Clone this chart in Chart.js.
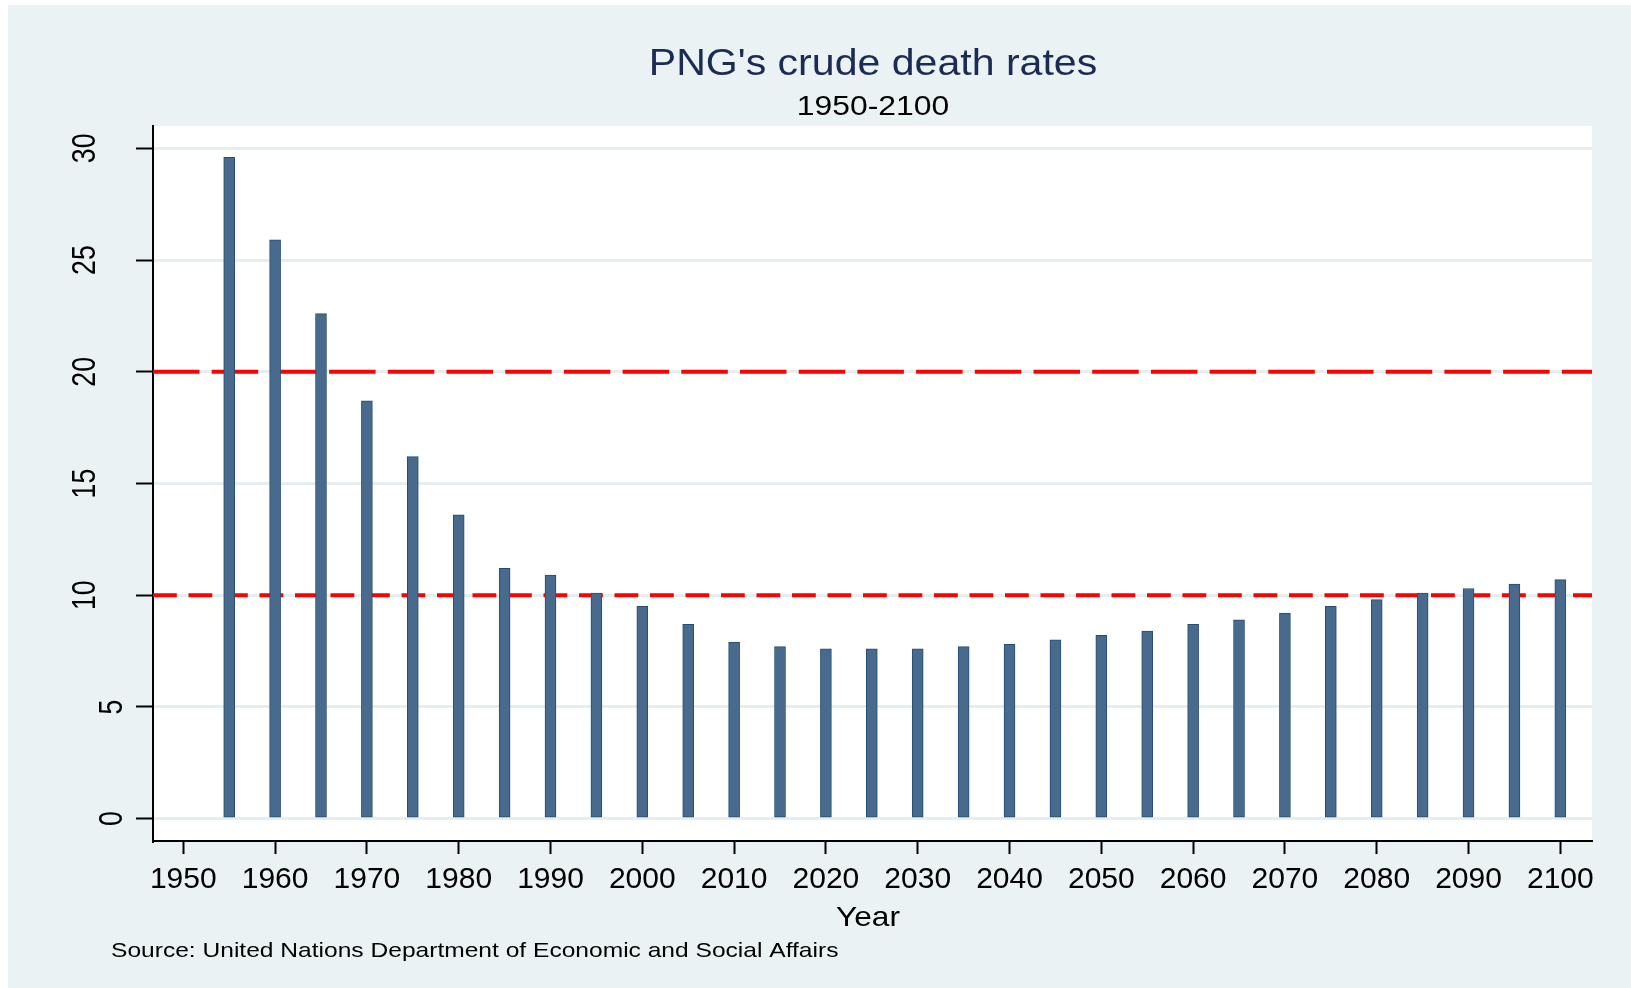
<!DOCTYPE html>
<html>
<head>
<meta charset="utf-8">
<script src="https://cdn.jsdelivr.net/npm/chart.js@4"></script>
<style>
  html, body { margin: 0; padding: 0; background: #ffffff; }
  #wrap { width: 1631px; height: 988px; position: relative; }
</style>
</head>
<body>
<div id="wrap"><canvas id="chart"></canvas></div>
<script>
// data
var years = [1955, 1960, 1965, 1970, 1975, 1980, 1985, 1990, 1995, 2000,
             2005, 2010, 2015, 2020, 2025, 2030, 2035, 2040, 2045, 2050,
             2055, 2060, 2065, 2070, 2075, 2080, 2085, 2090, 2095, 2100];
var deathRates = [29.6, 25.9, 22.6, 18.7, 16.2, 13.6, 11.2, 10.9, 10.1, 9.5,
                  8.7, 7.9, 7.7, 7.6, 7.6, 7.6, 7.7, 7.8, 8.0, 8.2,
                  8.4, 8.7, 8.9, 9.2, 9.5, 9.8, 10.1, 10.3, 10.5, 10.7];
var xTickValues = [1950, 1960, 1970, 1980, 1990, 2000, 2010, 2020, 2030, 2040,
                   2050, 2060, 2070, 2080, 2090, 2100];
var yTickValues = [0, 5, 10, 15, 20, 25, 30];
var refLines = [20, 10];

var titleText = "PNG's crude death rates";
var subtitleText = "1950-2100";
var xTitleText = "Year";
var noteText = "Source: United Nations Department of Economic and Social Affairs";

var FONT = '"Liberation Sans", Arial, Helvetica, sans-serif';
var bgColor = '#eaf2f3';
var dashStyles = [[46.5, 12.2], [23.8, 11.7]];   // long dashes for 20, short for 10

function stretchText(ctx, text, x, y, size, color, sx, align) {
    ctx.save();
    ctx.font = size + 'px ' + FONT;
    ctx.fillStyle = color;
    ctx.textAlign = align;
    ctx.textBaseline = 'alphabetic';
    ctx.translate(x, y);
    ctx.scale(sx, 1);
    ctx.fillText(text, 0, 0);
    ctx.restore();
}

var decorPlugin = {
    id: 'decor',
    beforeDraw: function(chart) {                 // page, graph region and plot region
        var ctx = chart.ctx, a = chart.chartArea;
        ctx.save();
        ctx.fillStyle = '#ffffff';
        ctx.fillRect(0, 0, chart.width, chart.height);
        ctx.fillStyle = bgColor;
        ctx.fillRect(8, 5, chart.width - 8, chart.height - 5);
        ctx.fillStyle = '#ffffff';
        ctx.fillRect(a.left, a.top, a.right - a.left, a.bottom - a.top);
        ctx.restore();
    },
    beforeDatasetsDraw: function(chart) {         // red dashed reference lines, under the bars
        var ctx = chart.ctx, a = chart.chartArea, ys = chart.scales.y;
        ctx.save();
        ctx.strokeStyle = '#ff0000';
        ctx.lineWidth = 4;
        for (var i = 0; i < refLines.length; i++) {
            var py = ys.getPixelForValue(refLines[i]);
            ctx.setLineDash(dashStyles[i]);
            ctx.beginPath();
            ctx.moveTo(a.left, py);
            ctx.lineTo(a.right, py);
            ctx.stroke();
        }
        ctx.restore();
    },
    afterDraw: function(chart) {                  // titles, rotated y labels, axis title, note
        var ctx = chart.ctx, ys = chart.scales.y;
        stretchText(ctx, titleText, 873, 75, 37, '#1c2b55', 1.11, 'center');
        stretchText(ctx, subtitleText, 873, 115, 27, '#000000', 1.18, 'center');
        stretchText(ctx, xTitleText, 868, 926, 28, '#000000', 1.13, 'center');
        stretchText(ctx, noteText, 111, 957, 21, '#000000', 1.17, 'left');
        ctx.save();
        ctx.fillStyle = '#000000';
        ctx.font = '26px ' + FONT;
        ctx.textAlign = 'center';
        ctx.textBaseline = 'alphabetic';
        yTickValues.forEach(function(v) {
            var label = String(v);
            var px = 122 - 27 * (label.length - 1);
            ctx.save();
            ctx.translate(px, ys.getPixelForValue(v));
            ctx.rotate(-Math.PI / 2);
            ctx.scale(1.03, 1.26);
            ctx.fillText(label, 0, 0);
            ctx.restore();
        });
        ctx.restore();
    }
};

var ctx = document.getElementById('chart');
var deathChart = new Chart(ctx, {
    type: 'bar',
    data: {
        datasets: [{
            label: 'Crude death rate',
            data: years.map(function(yr, i) { return { x: yr, y: deathRates[i] }; }),
            backgroundColor: '#486b8d',
            borderColor: '#264c73',
            borderWidth: 1,
            borderSkipped: false,
            barThickness: 11
        }]
    },
    options: {
        responsive: true,
        maintainAspectRatio: false,
        animation: false,
        layout: { padding: { top: 126, left: 0, right: 39, bottom: 0 } },
        plugins: {
            legend: { display: false },
            title: { display: false },
            tooltip: { enabled: false }
        },
        scales: {
            x: {
                type: 'linear',
                min: 1946.7,
                max: 2103.45,
                offset: false,
                afterFit: function(scale) { scale.height = 147; },
                afterBuildTicks: function(scale) {
                    scale.ticks = xTickValues.map(function(v) { return { value: v }; });
                },
                grid: {
                    offset: false,
                    drawOnChartArea: false,
                    drawTicks: true,
                    tickLength: 13,
                    tickColor: '#000000',
                    tickWidth: 2
                },
                border: { display: true, color: '#000000', width: 2 },
                ticks: {
                    color: '#000000',
                    font: { family: FONT, size: 30 },
                    padding: 8,
                    maxRotation: 0,
                    autoSkip: false,
                    callback: function(v) { return String(v); }
                }
            },
            y: {
                type: 'linear',
                min: -1,
                max: 31,
                afterFit: function(scale) { scale.width = 153; },
                afterBuildTicks: function(scale) {
                    scale.ticks = yTickValues.map(function(v) { return { value: v }; });
                },
                grid: {
                    color: '#e6eef0',
                    lineWidth: 3,
                    drawTicks: true,
                    tickLength: 17,
                    tickColor: '#000000',
                    tickWidth: 2
                },
                border: { display: true, color: '#000000', width: 2 },
                ticks: { display: false }
            }
        }
    },
    plugins: [decorPlugin]
});
</script>
</body>
</html>
